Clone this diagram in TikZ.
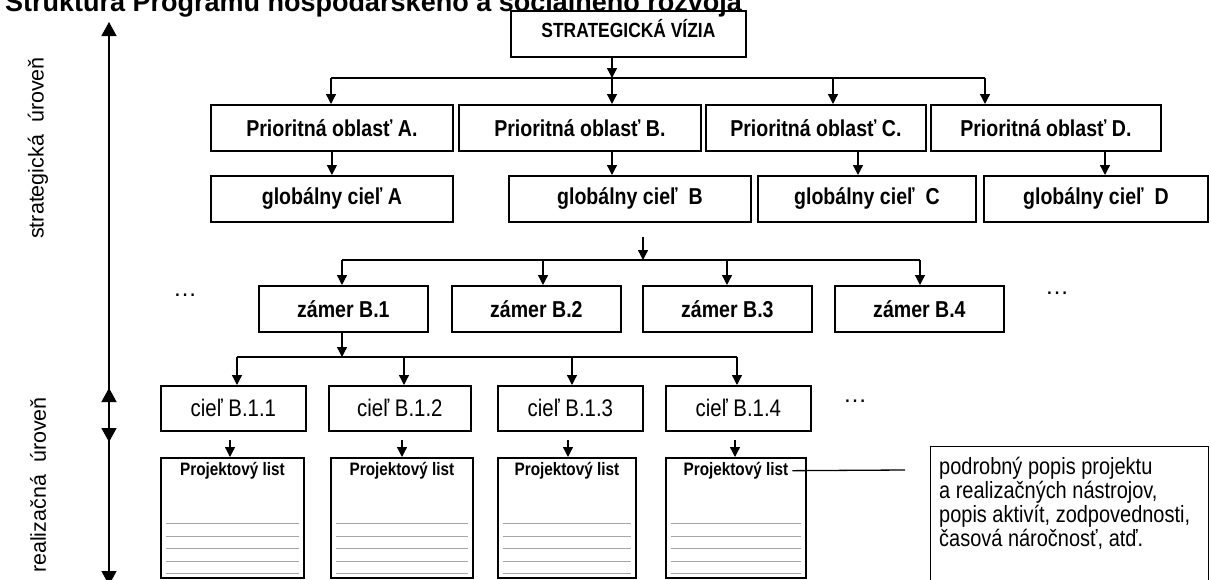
\documentclass[tikz,border=0pt]{standalone}
\usepackage{fontspec}
\setmainfont{Liberation Sans}
\newfontfamily\narrow[FakeStretch=0.85]{Liberation Sans}
\usetikzlibrary{arrows.meta,calc}
\begin{document}
\begin{tikzpicture}[x=1pt,y=-1pt,
  bx/.style={draw, line width=1.8pt, inner sep=0pt, anchor=north west, minimum height=46pt},
  bb/.style={bx, font=\narrow\bfseries\fontsize{23}{27}\selectfont},
  br/.style={bx, font=\narrow\fontsize{24}{28}\selectfont},
  pbox/.style={draw, line width=1.8pt, inner sep=0pt, anchor=north west, minimum height=120pt},
  conn/.style={line width=1.3pt},
  arr/.style={line width=1.3pt, -{Triangle[width=10pt,length=10pt]}},
  axis/.style={line width=1.4pt, {Triangle[width=15pt,length=14pt]}-{Triangle[width=15pt,length=14pt]}},
  lab/.style={font=\fontsize{21.5}{25}\selectfont, rotate=90},
  gl/.style={line width=0.7pt, gray!70},
  dots/.style={font=\fontsize{24}{28}\selectfont}
]
\useasboundingbox (0,0) rectangle (1211,579);
\clip (0,0) rectangle (1211,579);
% title (cropped at the top edge, as in the reference)
\node[anchor=base west, inner sep=0pt, font=\bfseries\fontsize{27}{32}\selectfont] (title) at (5,11) {Štruktúra Programu hospodárskeho a sociálneho rozvoja};
% left axis
\coordinate (ax1) at (109,22);
\coordinate (ax2) at (109,442);
\coordinate (ax3) at (109,388);
\coordinate (ax4) at (109,585);
\draw[axis] (ax1) -- (ax2);
\draw[axis] (ax3) -- (ax4);
\node[lab] (ls) at (38,148) {strategická\ \ úroveň};
\node[lab] (lr) at (38,485) {realizačná\ \ úroveň};
% vision
\node[bx, font=\narrow\bfseries\fontsize{20.5}{24}\selectfont, minimum width=235pt, text depth=10pt] (sv) at (510,10) {STRATEGICKÁ VÍZIA};
% priorities
\node[bb, minimum width=242pt] (pa) at (210,104) {Prioritná oblasť A.};
\node[bb, minimum width=242pt] (pb) at (458,104) {Prioritná oblasť B.};
\node[bb, minimum width=220pt] (pc) at (705,104) {Prioritná oblasť C.};
\node[bb, minimum width=230pt] (pd) at (930,104) {Prioritná oblasť D.};
% global goals
\node[bb, minimum width=242pt] (ga) at (210,175) {globálny cieľ A};
\node[bb, minimum width=242pt] (gb) at (508,175) {globálny cieľ\ \ B};
\node[bb, minimum width=218pt] (gc) at (757,175) {globálny cieľ\ \ C};
\node[bb, minimum width=224pt] (gd) at (983,175) {globálny cieľ\ \ D};
% intents
\node[bb, minimum width=169pt] (z1) at (258,285) {zámer B.1};
\node[bb, minimum width=169pt] (z2) at (451,285) {zámer B.2};
\node[bb, minimum width=169pt] (z3) at (642,285) {zámer B.3};
\node[bb, minimum width=169pt] (z4) at (834,285) {zámer B.4};
\node[dots] (d1) at (185,295) {\dots};
\node[dots] (d2) at (1057,293) {\dots};
% goals
\node[br, minimum width=145pt, minimum height=45pt] (c1) at (160,385) {cieľ B.1.1};
\node[br, minimum width=142pt, minimum height=45pt] (c2) at (328,385) {cieľ B.1.2};
\node[br, minimum width=145pt, minimum height=45pt] (c3) at (497,385) {cieľ B.1.3};
\node[br, minimum width=145pt, minimum height=45pt] (c4) at (665,385) {cieľ B.1.4};
\node[dots] (d3) at (855,401) {\dots};
% project sheets
\node[pbox, minimum width=143pt] (l1) at (160,457) {};
\node[pbox, minimum width=142pt] (l2) at (330,457) {};
\node[pbox, minimum width=138pt] (l3) at (497,457) {};
\node[pbox, minimum width=140pt] (l4) at (665,457) {};
\foreach \n in {l1,l2,l3,l4} {
  \node[font=\narrow\bfseries\fontsize{18}{21}\selectfont, anchor=north, inner sep=0pt] (\n h) at ($(\n.north)+(0,5)$) {Projektový list};
  \foreach \d in {5,17,30,42,55} {
    \draw[gl] ($(\n.south west)+(6,-\d)$) -- ($(\n.south east)+(-6,-\d)$);
  }
}
% note
\node[draw, line width=1.3pt, anchor=north west, minimum width=278pt, minimum height=135pt, inner sep=0pt] (note) at (930,446) {};
\node[anchor=north west, align=left, inner sep=0pt, font=\narrow\fontsize{23.5}{24}\selectfont] (notet) at (939,457) {podrobný popis projektu\\a realizačných nástrojov,\\popis aktivít, zodpovednosti,\\časová náročnosť, atď.};
\coordinate (nc) at (905,470);
\draw[conn] ($(l4h.east)+(4,0)$) -- (nc);
% bus 1
\coordinate (b1a) at (331,78);
\coordinate (b1b) at (612,78);
\coordinate (b1c) at (833,78);
\coordinate (b1d) at (985,78);
\draw[arr] (sv.south -| b1b) -- (b1b);
\draw[conn] (b1a) -- (b1d);
\draw[arr] (b1a) -- (b1a |- pa.north);
\draw[arr] (b1b) -- (b1b |- pb.north);
\draw[arr] (b1c) -- (b1c |- pc.north);
\draw[arr] (b1d) -- (b1d |- pd.north);
% priority -> global
\draw[arr] (pa.south) -- (ga.north);
\draw[arr] (pb.south -| b1b) -- (b1b |- gb.north);
\coordinate (pcx) at (858,150);
\coordinate (pdx) at (1105,150);
\draw[arr] (pc.south -| pcx) -- (pcx |- gc.north);
\draw[arr] (pd.south -| pdx) -- (pdx |- gd.north);
% bus 2
\coordinate (g2) at (643,237);
\coordinate (b2m) at (643,260);
\coordinate (b2a) at (342,260);
\coordinate (b2b) at (543,260);
\coordinate (b2c) at (727,260);
\coordinate (b2d) at (920,260);
\draw[arr] (g2) -- (b2m);
\draw[conn] (b2a) -- (b2d);
\draw[arr] (b2a) -- (b2a |- z1.north);
\draw[arr] (b2b) -- (b2b |- z2.north);
\draw[arr] (b2c) -- (b2c |- z3.north);
\draw[arr] (b2d) -- (b2d |- z4.north);
% bus 3
\coordinate (b3m) at (342,357);
\coordinate (b3a) at (237,357);
\coordinate (b3b) at (404,357);
\coordinate (b3c) at (572,357);
\coordinate (b3d) at (737,357);
\draw[arr] (z1.south -| b3m) -- (b3m);
\draw[conn] (b3a) -- (b3d);
\draw[arr] (b3a) -- (b3a |- c1.north);
\draw[arr] (b3b) -- (b3b |- c2.north);
\draw[arr] (b3c) -- (b3c |- c3.north);
\draw[arr] (b3d) -- (b3d |- c4.north);
% goals -> sheets
\foreach \c/\l/\x in {c1/l1/230, c2/l2/402, c3/l3/568, c4/l4/735} {
  \draw[arr] ($(\c.south -| \x,0)+(0,8)$) -- (\x,0 |- \l.north);
}
\end{tikzpicture}
\end{document}
